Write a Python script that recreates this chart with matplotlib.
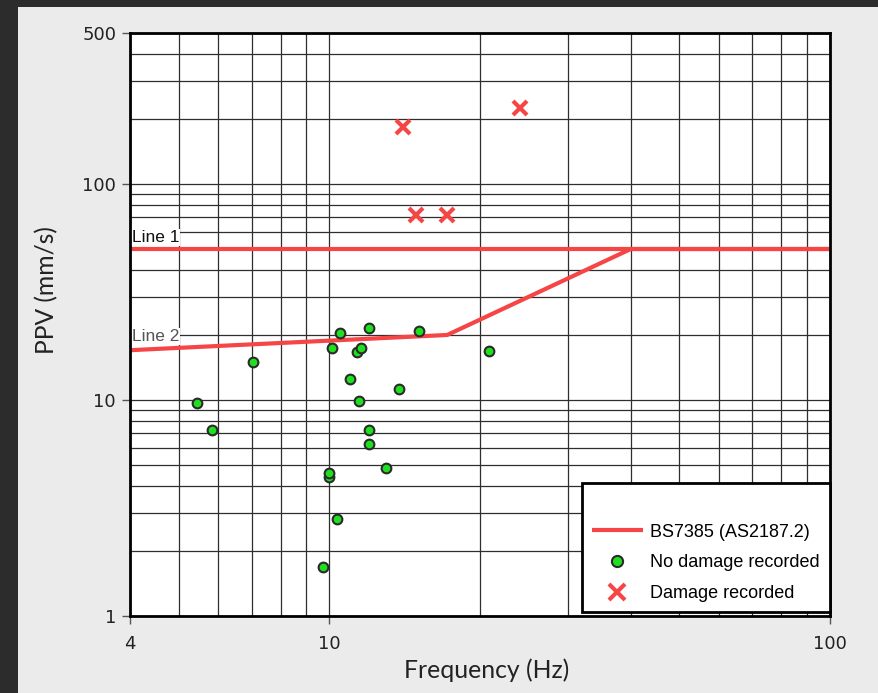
import numpy as np
import matplotlib
matplotlib.use("Agg")
import matplotlib.pyplot as plt
from matplotlib.ticker import LogLocator, NullFormatter, FixedLocator, FixedFormatter
from matplotlib.patches import Rectangle

# ---------------- data ----------------
nodmg_freq = [5.44, 5.83, 7.04, 10.51, 12.01, 15.1, 10.11, 11.36, 11.56, 20.8,
              11.02, 13.8, 11.45, 12.01, 12.01, 12.98, 10.0, 10.0, 10.35, 9.70]
nodmg_ppv = [9.69, 7.26, 15.0, 20.5, 21.6, 20.9, 17.35, 16.7, 17.35, 16.8,
             12.5, 11.25, 9.89, 7.26, 6.26, 4.86, 4.42, 4.58, 2.81, 1.69]

dmg_freq = [14.04, 24.0, 14.9, 17.2]
dmg_ppv = [183.6, 224.8, 71.8, 71.8]

bs_freq = [4, 17.2, 40, 100]
bs_ppv = [17.0, 20.0, 50.0, 50.0]

line1_freq = [4, 100]
line1_ppv = [50.0, 50.0]

xticks = [4, 10, 100]
xticklabels = ["4", "10", "100"]
yticks = [1, 10, 100, 500]
yticklabels = ["1", "10", "100", "500"]

# ---------------- figure ----------------
W, H = 879, 693
fig = plt.figure(figsize=(W / 100, H / 100), dpi=100)
fig.patch.set_facecolor("#ebebeb")
# dark frame strips (top and left)
fig.patches.append(Rectangle((0, 1 - 7 / H), 1, 7 / H, transform=fig.transFigure,
                             facecolor="#2c2c2c", edgecolor="none", zorder=0))
fig.patches.append(Rectangle((0, 0), 18 / W, 1, transform=fig.transFigure,
                             facecolor="#2c2c2c", edgecolor="none", zorder=0))

ax = fig.add_axes([130 / W, 1 - 616 / H, 700 / W, 583 / H])
ax.set_facecolor("white")
ax.set_xscale("log")
ax.set_yscale("log")
ax.set_xlim(4, 100)
ax.set_ylim(1, 500)

# grid
ax.xaxis.set_minor_locator(LogLocator(base=10, subs=np.arange(2, 10)))
ax.yaxis.set_minor_locator(LogLocator(base=10, subs=np.arange(2, 10)))
ax.xaxis.set_minor_formatter(NullFormatter())
ax.yaxis.set_minor_formatter(NullFormatter())
ax.xaxis.set_major_locator(FixedLocator(xticks))
ax.xaxis.set_major_formatter(FixedFormatter(xticklabels))
ax.yaxis.set_major_locator(FixedLocator(yticks))
ax.yaxis.set_major_formatter(FixedFormatter(yticklabels))
ax.grid(True, which="both", color="#2e2e2e", linewidth=0.9, zorder=1)
ax.set_axisbelow(True)

ax.tick_params(which="minor", length=0)
ax.tick_params(which="major", length=6, width=1, color="#555555",
               labelsize=13, labelcolor="#222222")
ax.tick_params(axis="x", which="major", pad=8)
ax.tick_params(axis="y", which="major", pad=4)

for s in ax.spines.values():
    s.set_linewidth(2)
    s.set_color("black")
    s.set_zorder(5)

red = "#f54545"
ax.plot(line1_freq, line1_ppv, color=red, linewidth=3, zorder=3, solid_capstyle="butt")
bs_line, = ax.plot(bs_freq, bs_ppv, color=red, linewidth=3, zorder=3,
                   solid_capstyle="butt", label="BS7385 (AS2187.2)")
nd, = ax.plot(nodmg_freq, nodmg_ppv, linestyle="none", marker="o", markersize=7,
              markerfacecolor="#1fe01f", markeredgecolor="#2a2a2a", markeredgewidth=1.5,
              zorder=4, label="No damage recorded")
dm, = ax.plot(dmg_freq, dmg_ppv, linestyle="none", marker="x", markersize=9.5,
              markeredgecolor=red, markeredgewidth=3, zorder=4, label="Damage recorded")

# line labels
ax.text(4.03, 56.5, "Line 1", fontsize=12.5, family="Liberation Sans", color="#111111",
        va="center", ha="left", zorder=4,
        bbox=dict(facecolor="white", edgecolor="none", pad=0.5))
ax.text(4.03, 19.7, "Line 2", fontsize=12.5, family="Liberation Sans", color="#555555",
        va="center", ha="left", zorder=4,
        bbox=dict(facecolor="white", edgecolor="none", pad=0.5))

leg = ax.legend(handles=[bs_line, nd, dm], loc="lower right",
                bbox_to_anchor=(1.0, 0.0069), borderaxespad=0,
                prop={"family": "Liberation Sans", "size": 13},
                title=" ", title_fontproperties={"family": "Liberation Sans", "size": 14},
                frameon=True, fancybox=False, framealpha=1, edgecolor="black",
                borderpad=0.55, handlelength=2.85, handletextpad=0.4, labelspacing=0.76,
                markerscale=1.15)
leg.get_frame().set_linewidth(2)
leg.set_zorder(6)

ax.set_xlabel("Frequency (Hz)", fontsize=17.8, family="Lato", color="#222222")
ax.set_ylabel("PPV (mm/s)", fontsize=17.7, family="Lato", color="#222222")
ax.xaxis.set_label_coords((487 - 130) / 700, (616 - 670) / 583)
ax.yaxis.set_label_coords((47 - 130) / 700, (616 - 290) / 583)
ax.xaxis.label.set_va("center")
ax.yaxis.label.set_va("center")

fig.savefig("out.png", dpi=100, facecolor=fig.get_facecolor())
